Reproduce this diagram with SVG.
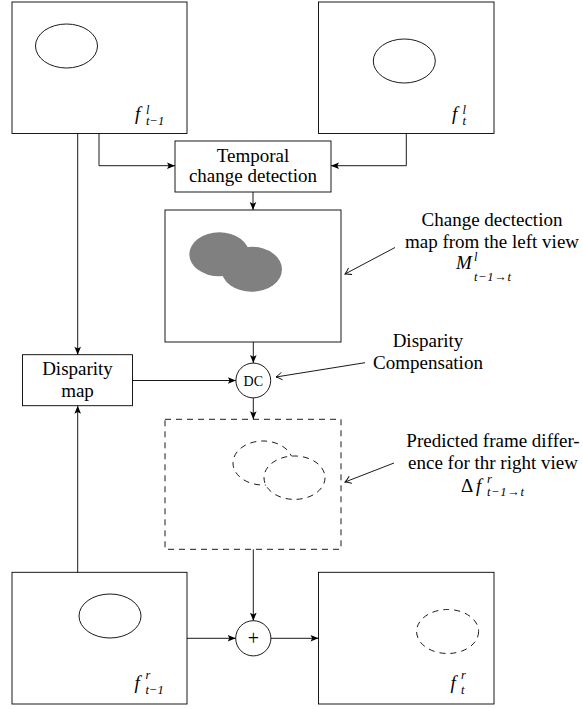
<svg xmlns="http://www.w3.org/2000/svg" width="583" height="709" viewBox="0 0 583 709">
<style>
.box{fill:#fff;stroke:#000;stroke-width:0.9}
.dash{fill:#fff;stroke:#000;stroke-width:0.9;stroke-dasharray:6 5}
.conn{fill:none;stroke:#000;stroke-width:0.9}
.ell{fill:none;stroke:#000;stroke-width:0.9}
.blob{fill:#808080;stroke:none}
text{font-family:'Liberation Serif','Times New Roman','DejaVu Serif',serif;fill:#000}
.t{font-size:19px;text-anchor:middle}
.m{font-style:italic;font-size:19px}
.u{font-style:normal}
.s{font-style:italic;font-size:12.5px}
.dc{font-size:14px;text-anchor:middle}
</style>
<defs>
<marker id="ah" markerUnits="userSpaceOnUse" markerWidth="10" markerHeight="8" viewBox="-9 -4 10 8" refX="0" refY="0" orient="auto">
<path d="M0,0 L-8,-3.3 L-6.3,0 L-8,3.3 Z" fill="#000"/>
</marker>
<marker id="to" markerUnits="userSpaceOnUse" markerWidth="10" markerHeight="10" viewBox="-8 -5 9 10" refX="0" refY="0" orient="auto">
<path d="M-6,-3.8 Q-2.5,-1 0,0 Q-2.5,1 -6,3.8" fill="none" stroke="#000" stroke-width="0.9"/>
</marker>
</defs>

<g id="frame-left-prev">
<rect class="box" x="12" y="2" width="175" height="131.5"/>
<ellipse class="ell" cx="66.5" cy="46" rx="31" ry="22"/>
<text class="m" x="135" y="119.5">f<tspan class="s" x="146" y="113.5">l</tspan><tspan class="s" x="146" y="124.5">t−1</tspan></text>
</g>

<g id="frame-left-cur">
<rect class="box" x="318.5" y="2" width="175.5" height="131.5"/>
<ellipse class="ell" cx="404.3" cy="61" rx="31" ry="22"/>
<text class="m" x="452" y="119.5">f<tspan class="s" x="462.5" y="113.5">l</tspan><tspan class="s" x="462.5" y="124.5">t</tspan></text>
</g>

<g id="temporal">
<rect class="box" x="175" y="141" width="156" height="51"/>
<text class="t" x="253" y="161.5">Temporal</text>
<text class="t" x="253" y="182">change detection</text>
</g>

<g id="change-map">
<rect class="box" x="165" y="210" width="176" height="132"/>
<ellipse class="blob" cx="219.3" cy="254.3" rx="30" ry="22"/>
<ellipse class="blob" cx="251.7" cy="269.3" rx="30.3" ry="22.5"/>
</g>

<g id="change-label">
<text class="t" x="492" y="225.5">Change dectection</text>
<text class="t" x="492" y="247.5">map from the left view</text>
<text class="m" x="456" y="269">M<tspan class="s" x="474" y="261">l</tspan><tspan class="s" x="474" y="280.5" letter-spacing="0.7">t−1→t</tspan></text>
</g>

<g id="disparity-map">
<rect class="box" x="22.5" y="354.7" width="110" height="51"/>
<text class="t" x="77.5" y="375">Disparity</text>
<text class="t" x="77.5" y="396.5">map</text>
</g>

<g id="dc">
<circle class="box" cx="253.3" cy="380.5" r="17.4"/>
<text class="dc" x="253.3" y="385.5">DC</text>
</g>

<g id="dc-label">
<text class="t" x="428" y="346.5">Disparity</text>
<text class="t" x="428" y="368.5">Compensation</text>
</g>

<g id="predicted">
<rect class="dash" x="165" y="419.3" width="176" height="130"/>
<ellipse class="dash" cx="263" cy="463" rx="30" ry="22"/>
<ellipse class="dash" cx="294.5" cy="477.7" rx="30.5" ry="21.7"/>
</g>

<g id="predicted-label">
<text class="t" x="493" y="447">Predicted frame differ-</text>
<text class="t" x="493" y="469">ence for thr right view</text>
<text class="m" x="461" y="491.5"><tspan class="u">Δ</tspan><tspan x="476">f</tspan><tspan class="s" x="487" y="483">r</tspan><tspan class="s" x="487" y="496" letter-spacing="0.7">t−1→t</tspan></text>
</g>

<g id="frame-right-prev">
<rect class="box" x="12" y="572.3" width="175" height="131.7"/>
<ellipse class="ell" cx="110" cy="616" rx="31" ry="22"/>
<text class="m" x="134.5" y="689">f<tspan class="s" x="145.5" y="679">r</tspan><tspan class="s" x="145.5" y="693.5">t−1</tspan></text>
</g>

<g id="plus">
<circle class="box" cx="253.3" cy="638.3" r="17.6"/>
<text class="dc" style="font-size:20px" x="253.3" y="644.5">+</text>
</g>

<g id="frame-right-cur">
<rect class="box" x="318.5" y="572.3" width="175.5" height="131.7"/>
<ellipse class="dash" cx="447.6" cy="631.5" rx="31" ry="22"/>
<text class="m" x="450.5" y="689">f<tspan class="s" x="461" y="679">r</tspan><tspan class="s" x="461" y="693.5">t</tspan></text>
</g>

<g id="connectors">
<path class="conn" d="M99,133.5 V165.7 H175" marker-end="url(#ah)"/>
<path class="conn" d="M406.3,133.5 V165.7 H331" marker-end="url(#ah)"/>
<path class="conn" d="M253,192 V210" marker-end="url(#ah)"/>
<path class="conn" d="M77.7,133.5 V354.7" marker-end="url(#ah)"/>
<path class="conn" d="M77.7,572.3 V405.7" marker-end="url(#ah)"/>
<path class="conn" d="M132.5,380.5 H235.9" marker-end="url(#ah)"/>
<path class="conn" d="M253.3,342 V363.1" marker-end="url(#ah)"/>
<path class="conn" d="M253.3,397.9 V419.3" marker-end="url(#ah)"/>
<path class="conn" d="M253.3,549.3 V620.7" marker-end="url(#ah)"/>
<path class="conn" d="M187,638.3 H235.7" marker-end="url(#ah)"/>
<path class="conn" d="M270.9,638.3 H318.5" marker-end="url(#ah)"/>
<path class="conn" d="M395,247.5 L345,274" marker-end="url(#to)"/>
<path class="conn" d="M365,362.7 L276,377" marker-end="url(#to)"/>
<path class="conn" d="M394,463 L345,482" marker-end="url(#to)"/>
</g>
</svg>
